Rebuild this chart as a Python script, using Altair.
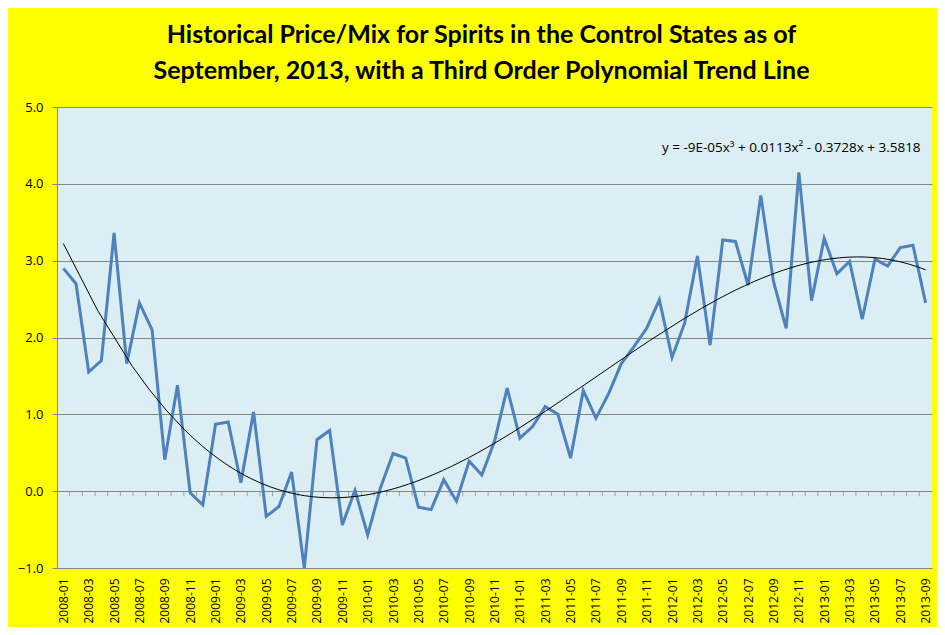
import altair as alt
import pandas as pd

# Categories: monthly from 2008-01 to 2013-09
MONTHS = [f"{y}-{m:02d}" for y in range(2008, 2014) for m in range(1, 13)][:69]

# Price/mix values
VALUES = [
    2.90, 2.70, 1.55, 1.70, 3.36, 1.66, 2.45, 2.10, 0.41, 1.38, -0.02, -0.18,
    0.87, 0.90, 0.11, 1.03, -0.33, -0.20, 0.25, -1.00, 0.67, 0.79, -0.44, 0.01,
    -0.57, 0.04, 0.49, 0.43, -0.21, -0.24, 0.15, -0.13, 0.39, 0.21, 0.65, 1.34,
    0.69, 0.84, 1.10, 1.00, 0.43, 1.31, 0.95, 1.27, 1.66, 1.88, 2.12, 2.49,
    1.74, 2.19, 3.06, 1.90, 3.27, 3.25, 2.68, 3.85, 2.73, 2.12, 4.15, 2.48,
    3.29, 2.83, 2.99, 2.24, 3.02, 2.93, 3.17, 3.20, 2.45,
]

Y_TICKS = [-1, 0, 1, 2, 3, 4, 5]
TITLE_LINES = [
    "Historical Price/Mix for Spirits in the Control States as of",
    "September, 2013, with a Third Order Polynomial Trend Line",
]
EQUATION = "y = -9E-05x\u00b3 + 0.0113x\u00b2 - 0.3728x + 3.5818"

n = len(VALUES)
df = pd.DataFrame({"idx": list(range(n)), "month": MONTHS, "value": VALUES})
eq_df = pd.DataFrame({"t": [EQUATION]})

label_array = "[" + ",".join(f"'{m}'" for m in MONTHS) + "]"

GRAY = "#868686"
FONT = "Open Sans"

x_scale = alt.Scale(domain=[-0.5, n - 0.5], nice=False, zero=False)
y_scale = alt.Scale(domain=[-1, 5], nice=False)

x_axis = alt.Axis(
    values=list(range(0, n, 2)),
    tickCount=n + 10,
    labelExpr=f"{label_array}[datum.value]",
    labelAngle=270,
    labelOverlap=False,
    labelBound=False,
    title=None,
    grid=False,
    ticks=False,
    domainColor=GRAY,
    labelFont=FONT,
    labelFontSize=12,
    labelColor="black",
    labelPadding=10,
)
y_axis = alt.Axis(
    values=Y_TICKS,
    format=".1f",
    title=None,
    grid=True,
    gridColor=GRAY,
    gridWidth=1,
    tickSize=5,
    tickColor=GRAY,
    domainColor=GRAY,
    labelFont=FONT,
    labelFontSize=13,
    labelColor="black",
    labelPadding=9,
    labelOverlap=False,
)

base = alt.Chart(df)

zero_ticks = (
    base.transform_filter(f"datum.idx < {n - 1}")
    .transform_calculate(b="datum.idx + 0.5", datum_zero="0")
    .mark_tick(orient="vertical", size=5, thickness=1, yOffset=2.5, color=GRAY)
    .encode(
        x=alt.X("b:Q", scale=x_scale, axis=x_axis),
        y=alt.Y("datum_zero:Q", scale=y_scale, axis=y_axis),
    )
)

line = base.mark_line(color="#4F81BD", strokeWidth=3).encode(
    x=alt.X("idx:Q", scale=x_scale, axis=x_axis),
    y=alt.Y("value:Q", scale=y_scale, axis=y_axis),
)

trend = (
    base.transform_regression("idx", "value", method="poly", order=3)
    .mark_line(color="black", strokeWidth=1)
    .encode(
        x=alt.X("idx:Q", scale=x_scale, axis=x_axis),
        y=alt.Y("value:Q", scale=y_scale, axis=y_axis),
    )
)

equation = (
    alt.Chart(eq_df)
    .mark_text(align="right", baseline="middle", font=FONT, fontSize=13.5, color="black")
    .encode(x=alt.datum(67.6), y=alt.datum(4.47), text="t:N")
)

chart = (
    alt.layer(zero_ticks, line, trend, equation)
    .properties(
        width=875,
        height=461,
        autosize=alt.AutoSizeParams(type="none"),
        padding={"left": 49, "top": 99, "right": 5, "bottom": 59},
        background="#FFFF00",
        title=alt.TitleParams(
            text=TITLE_LINES,
            font="Lato",
            fontSize=25,
            fontWeight="bold",
            color="black",
            anchor="middle",
            lineHeight=36,
            offset=17,
            dx=-13,
        ),
    )
    .configure_view(fill="#DAEEF3", stroke=None)
    .configure_axis(labelOverlap=False)
)

chart.save("out.html", embed_options={"renderer": "svg", "actions": False})
